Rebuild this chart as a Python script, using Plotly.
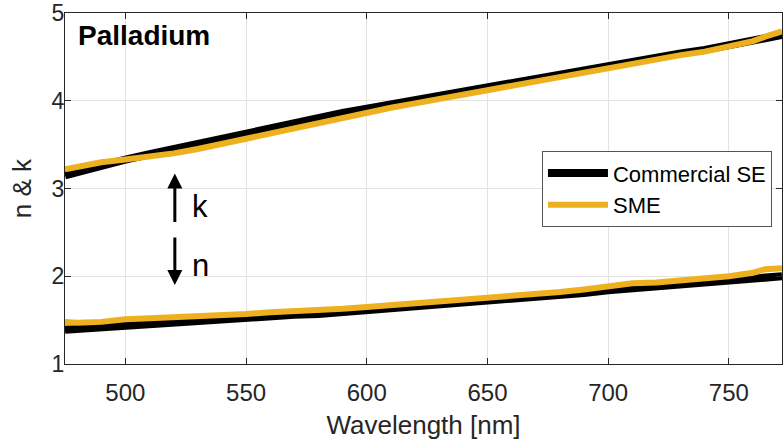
import plotly.graph_objects as go

wavelength = [475, 480, 490, 500, 510, 520, 530, 540, 550, 560, 570, 580, 590, 600,
              610, 620, 630, 640, 650, 660, 670, 680, 690, 700, 710, 720, 730, 740,
              750, 760, 765, 772]

se_k = [3.15, 3.19, 3.26, 3.33, 3.39, 3.45, 3.52, 3.58, 3.64, 3.69, 3.75, 3.80, 3.86, 3.91,
        3.96, 4.01, 4.06, 4.10, 4.15, 4.20, 4.25, 4.30, 4.35, 4.40, 4.45, 4.49, 4.54, 4.58,
        4.63, 4.68, 4.71, 4.75]
sme_k = [3.22, 3.25, 3.30, 3.33, 3.36, 3.40, 3.45, 3.51, 3.57, 3.63, 3.69, 3.75, 3.81, 3.87,
         3.92, 3.97, 4.02, 4.07, 4.12, 4.17, 4.22, 4.28, 4.33, 4.38, 4.42, 4.47, 4.52, 4.56,
         4.62, 4.68, 4.73, 4.79]
se_n = [1.39, 1.40, 1.42, 1.44, 1.46, 1.48, 1.49, 1.51, 1.53, 1.54, 1.56, 1.57, 1.59, 1.61,
        1.63, 1.65, 1.67, 1.69, 1.72, 1.74, 1.76, 1.78, 1.81, 1.84, 1.86, 1.88, 1.90, 1.92,
        1.94, 1.96, 1.98, 2.00]
sme_n = [1.48, 1.47, 1.48, 1.51, 1.52, 1.53, 1.55, 1.56, 1.57, 1.59, 1.60, 1.62, 1.63, 1.65,
         1.67, 1.69, 1.71, 1.73, 1.76, 1.78, 1.80, 1.82, 1.85, 1.89, 1.92, 1.93, 1.95, 1.97,
         2.00, 2.04, 2.08, 2.09]

x_ticks = [500, 550, 600, 650, 700, 750]
y_ticks = [1, 2, 3, 4, 5]

FONT = "Liberation Sans, Arial, sans-serif"
TXT = "#262626"

fig = go.Figure()
fig.add_trace(go.Scatter(x=wavelength + [None] + wavelength, y=se_k + [None] + se_n,
                         mode="lines", name="Commercial SE",
                         line=dict(color="black", width=8)))
fig.add_trace(go.Scatter(x=wavelength + [None] + wavelength, y=sme_k + [None] + sme_n,
                         mode="lines", name="SME",
                         line=dict(color="#EDB120", width=6)))

axis_common = dict(showline=True, linecolor=TXT, linewidth=1, mirror="ticks",
                   ticks="inside", ticklen=6, tickcolor=TXT,
                   showgrid=True, gridcolor="#e3e3e3", gridwidth=1, zeroline=False,
                   ticklabeloverflow="allow")

fig.update_xaxes(range=[475, 772], tickvals=x_ticks, automargin="bottom",
                 ticklabelstandoff=7,
                 tickfont=dict(family=FONT, size=24, color=TXT),
                 title=dict(text="Wavelength [nm]", font=dict(family=FONT, size=26, color=TXT),
                            standoff=11),
                 **axis_common)
fig.update_yaxes(range=[1, 5], tickvals=y_ticks, automargin="left",
                 ticklabelstandoff=-5,
                 tickfont=dict(family=FONT, size=23, color=TXT),
                 title=dict(text="n & k", font=dict(family=FONT, size=26, color=TXT),
                            standoff=12),
                 **axis_common)

fig.add_annotation(x=520.5, y=3.17, ax=520.5, ay=2.60, xref="x", yref="y", axref="x", ayref="y",
                   showarrow=True, arrowhead=2, arrowsize=1.0, arrowwidth=3, arrowcolor="black", text="")
fig.add_annotation(x=520.5, y=1.90, ax=520.5, ay=2.46, xref="x", yref="y", axref="x", ayref="y",
                   showarrow=True, arrowhead=2, arrowsize=1.0, arrowwidth=3, arrowcolor="black", text="")
fig.add_annotation(x=531, y=2.80, xref="x", yref="y", text="k", showarrow=False,
                   font=dict(family=FONT, size=31, color="black"))
fig.add_annotation(x=531, y=2.12, xref="x", yref="y", text="n", showarrow=False,
                   font=dict(family=FONT, size=31, color="black"))
fig.add_annotation(x=0.016, y=0.935, xref="paper", yref="paper", xanchor="left", yanchor="middle",
                   text="<b>Palladium</b>", showarrow=False,
                   font=dict(family=FONT, size=28, color="black"))

fig.update_layout(
    width=783, height=446,
    margin=dict(l=65, r=1, t=13, b=82),
    plot_bgcolor="white", paper_bgcolor="white",
    legend=dict(x=0.986, y=0.606, xanchor="right", yanchor="top",
                bgcolor="white", bordercolor="#555555", borderwidth=1,
                font=dict(family=FONT, size=22, color="black"),
                itemwidth=60, tracegroupgap=0),
)

fig.write_html("out.html")
